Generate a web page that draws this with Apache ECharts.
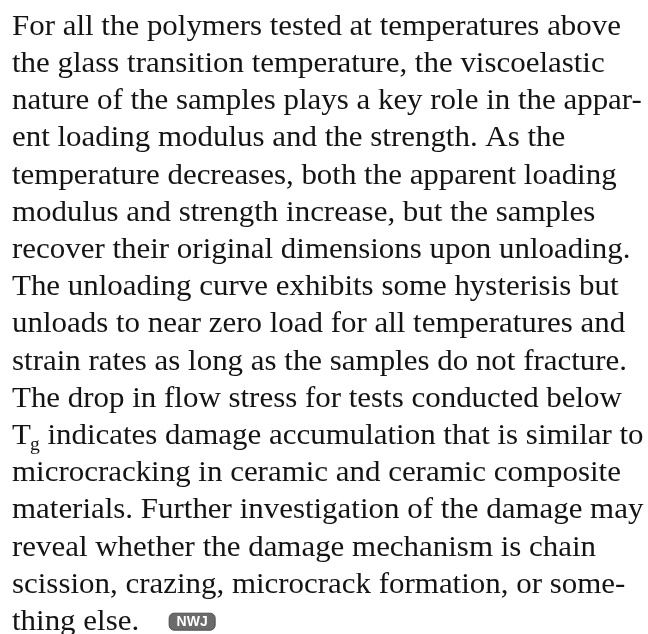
<!DOCTYPE html>
<html>
<head>
<meta charset="utf-8">
<script src="https://cdn.jsdelivr.net/npm/echarts@6/dist/echarts.min.js"></script>
<style>
  html, body { margin: 0; padding: 0; background: #fff; }
  #main { width: 648px; height: 634px; }
</style>
</head>
<body>
<div id="main"></div>
<script>
// paragraph lines, as broken in the original
const textLines = [
  'For all the polymers tested at temperatures above',
  'the glass transition temperature, the viscoelastic',
  'nature of the samples plays a key role in the appar-',
  'ent loading modulus and the strength. As the',
  'temperature decreases, both the apparent loading',
  'modulus and strength increase, but the samples',
  'recover their original dimensions upon unloading.',
  'The unloading curve exhibits some hysterisis but',
  'unloads to near zero load for all temperatures and',
  'strain rates as long as the samples do not fracture.',
  'The drop in flow stress for tests conducted below',
  ' indicates damage accumulation that is similar to',
  'microcracking in ceramic and ceramic composite',
  'materials. Further investigation of the damage may',
  'reveal whether the damage mechanism is chain',
  'scission, crazing, microcrack formation, or some-',
  'thing else.'
];
// line 12 starts with T subscript g
const symbolLine = 11;
const symbolText = 'T';
const subscriptText = 'g';
const badgeText = 'NWJ';

const fontFamily = '"Liberation Serif", "DejaVu Serif", serif';
const fontSize = 30;
const subSize = 19;
const left = 12;
const firstBaseline = 33;
const lineStep = 37.2;
const firstLineWidth = 609;
const ink = '#141414';

const ctx = document.createElement('canvas').getContext('2d');
function measure(str, size) {
  ctx.font = `${size}px ${fontFamily}`;
  return ctx.measureText(str).width;
}
// stretch all lines alike so the first line fills its measured width
const sx = firstLineWidth / measure(textLines[0], fontSize);
const midShift = fontSize * 0.2;

const elements = [];
textLines.forEach((line, i) => {
  const base = firstBaseline + i * lineStep;
  let x = left;
  if (i === symbolLine) {
    elements.push({
      type: 'text', x, y: base - midShift, scaleX: sx,
      style: { text: symbolText, font: `${fontSize}px ${fontFamily}`, fill: ink, verticalAlign: 'middle' }
    });
    x += measure(symbolText, fontSize) * sx;
    elements.push({
      type: 'text', x: x - 1, y: base + 7 - subSize * 0.2, scaleX: sx,
      style: { text: subscriptText, font: `${subSize}px ${fontFamily}`, fill: ink, verticalAlign: 'middle' }
    });
    x += measure(subscriptText, subSize) * sx - 1;
  }
  elements.push({
    type: 'text', x, y: base - midShift, scaleX: sx,
    style: { text: line, font: `${fontSize}px ${fontFamily}`, fill: ink, verticalAlign: 'middle' }
  });
  if (i === textLines.length - 1) {
    // end-of-article badge
    const bx = x + measure(line, fontSize) * sx + 30;
    elements.push({
      type: 'rect',
      shape: { x: bx, y: base - 15, width: 46, height: 17, r: 5 },
      style: { fill: '#6b6b6b', stroke: '#505050', lineWidth: 1 }
    });
    elements.push({
      type: 'text', x: bx + 23, y: base - 6.5,
      style: {
        text: badgeText, font: 'bold 14px "Liberation Sans Narrow", "Liberation Sans", sans-serif',
        fill: '#fff', align: 'center', verticalAlign: 'middle'
      }
    });
  }
});

const chart = echarts.init(document.getElementById('main'), null, { renderer: 'canvas' });
chart.setOption({
  backgroundColor: '#fff',
  animation: false,
  graphic: { elements }
});
</script>
</body>
</html>
